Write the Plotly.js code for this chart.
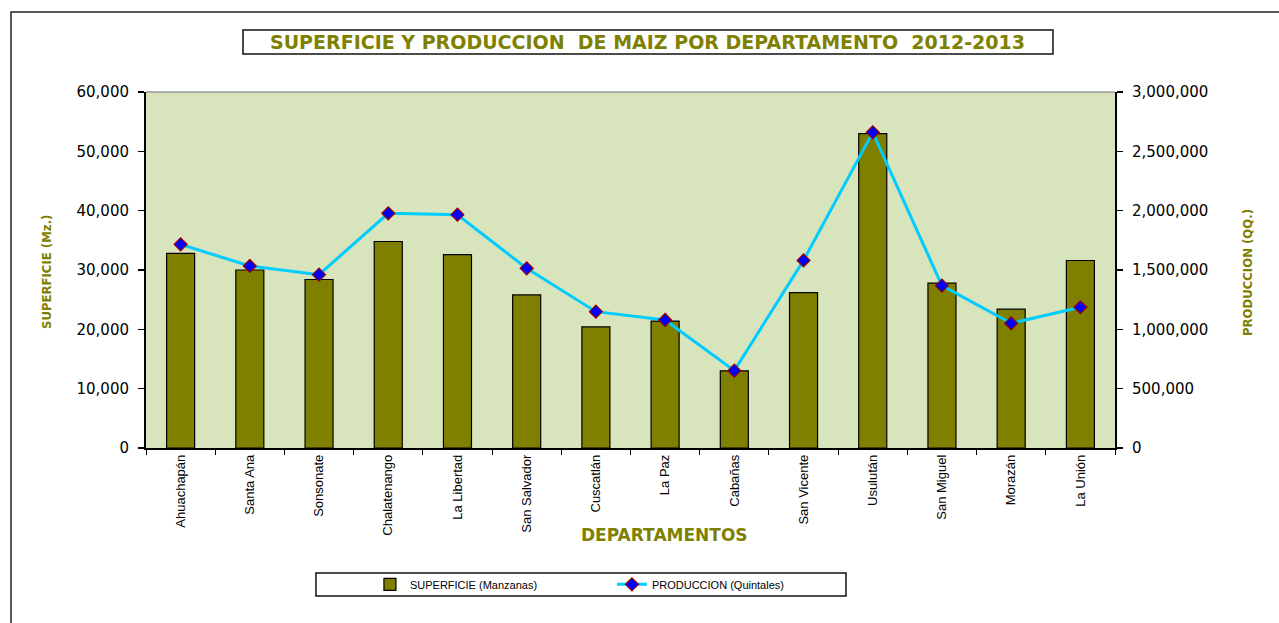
<!DOCTYPE html>
<html>
<head>
<meta charset="utf-8">
<script src="https://cdn.plot.ly/plotly-3.0.1.min.js"></script>
<style>
html,body{margin:0;padding:0;background:#fff;}
#chart{width:1279px;height:623px;}
</style>
</head>
<body>
<div id="chart"></div>
<script>
const departamentos = ["Ahuachapán","Santa Ana","Sonsonate","Chalatenango","La Libertad","San Salvador","Cuscatlán","La Paz","Cabañas","San Vicente","Usulután","San Miguel","Morazán","La Unión"];
const superficie = [32800, 30000, 28400, 34800, 32600, 25800, 20400, 21400, 13000, 26200, 53000, 27800, 23400, 31600];
const produccion = [1716000, 1534000, 1461000, 1978000, 1966000, 1514000, 1149000, 1079000, 652000, 1581000, 2660000, 1368000, 1051000, 1186000];
const leftTicks = [0, 10000, 20000, 30000, 40000, 50000, 60000];
const rightTicks = [0, 500000, 1000000, 1500000, 2000000, 2500000, 3000000];

const olive = "#808000";
const narrow = "Liberation Sans Narrow, Arial Narrow, DejaVu Sans Condensed, sans-serif";
const wide = "DejaVu Sans, Verdana, sans-serif";
const nCat = departamentos.length;

const traces = [
  {
    type: "bar", x: departamentos, y: superficie, name: "SUPERFICIE (Manzanas)",
    marker: {color: olive, line: {color: "#000", width: 1.2}},
    xaxis: "x", yaxis: "y"
  },
  {
    type: "scatter", mode: "lines+markers", x: departamentos, y: produccion,
    name: "PRODUCCION (Quintales)", xaxis: "x", yaxis: "y2",
    line: {color: "#00ccff", width: 3},
    marker: {symbol: "diamond", size: 10, color: "#0000ff", line: {color: "#990000", width: 1.2}}
  }
];

const layout = {
  width: 1279, height: 623,
  margin: {l: 146, r: 164, t: 92, b: 175},
  paper_bgcolor: "#ffffff",
  plot_bgcolor: "#d8e4bc",
  showlegend: true,
  bargap: 0.595,
  font: {family: wide, color: "#000", size: 13},
  xaxis: {
    type: "category", range: [-0.5, nCat - 0.5], tickangle: -90, tickson: "boundaries",
    ticks: "outside", ticklen: 5, tickcolor: "#000", tickwidth: 1,
    showline: true, linecolor: "#000", linewidth: 1.5,
    showgrid: false, zeroline: false,
    tickfont: {family: "Liberation Sans, Arial, sans-serif", size: 13, color: "#000"}
  },
  xaxis2: {
    overlaying: "x", anchor: "y", side: "bottom", range: [-0.5, nCat - 0.5],
    tick0: -0.5, dtick: 1, ticks: "inside", ticklen: 5, tickcolor: "#000",
    showticklabels: false, showline: false, showgrid: false, zeroline: false
  },
  yaxis: {
    range: [0, 60000], tickvals: leftTicks, tickformat: ",",
    ticks: "outside", ticklen: 6, tickcolor: "#000", tickwidth: 1.2,
    ticklabelstandoff: 6,
    showline: true, linecolor: "#000", linewidth: 2,
    showgrid: false, zeroline: false,
    tickfont: {family: wide, size: 15, color: "#000"}
  },
  yaxis3: {
    overlaying: "y", anchor: "x", side: "left", range: [0, 60000], tickvals: leftTicks,
    ticks: "inside", ticklen: 5, tickcolor: "#000", tickwidth: 1.2,
    showticklabels: false, showline: false, showgrid: false, zeroline: false
  },
  yaxis2: {
    overlaying: "y", side: "right", anchor: "x",
    range: [0, 3000000], tickvals: rightTicks, tickformat: ",",
    ticks: "outside", ticklen: 6, tickcolor: "#000", tickwidth: 1.2,
    ticklabelstandoff: 6,
    showline: true, linecolor: "#000", linewidth: 2,
    showgrid: false, zeroline: false,
    tickfont: {family: wide, size: 15, color: "#000"}
  },
  yaxis4: {
    overlaying: "y", side: "right", anchor: "x", range: [0, 3000000], tickvals: rightTicks,
    ticks: "inside", ticklen: 5, tickcolor: "#000", tickwidth: 1.2,
    showticklabels: false, showline: false, showgrid: false, zeroline: false
  },
  legend: {
    orientation: "h", x: 0.2311, xanchor: "left", y: -0.383, yanchor: "middle",
    bgcolor: "rgba(0,0,0,0)", borderwidth: 0,
    entrywidth: 197, entrywidthmode: "pixels",
    font: {family: "Liberation Sans, Arial, sans-serif", size: 11, color: "#000"}
  },
  shapes: [
    {type: "rect", xref: "paper", yref: "paper", x0: -0.1393, x1: 1.25, y0: -0.65, y1: 1.2247,
     line: {color: "#222", width: 1.5}, fillcolor: "rgba(0,0,0,0)"},
    {type: "rect", xref: "paper", yref: "paper", x0: 0.1001, x1: 0.936, y0: 1.1067, y1: 1.1742,
     line: {color: "#111", width: 1.5}, fillcolor: "#ffffff"},
    {type: "line", xref: "paper", yref: "paper", x0: 0, x1: 1, y0: 1, y1: 1,
     line: {color: "#999", width: 1.5}},
    {type: "rect", xref: "paper", yref: "paper", x0: 0.1754, x1: 0.7224, y0: -0.4157, y1: -0.3511,
     line: {color: "#111", width: 1.5}, fillcolor: "#ffffff", layer: "below"}
  ],
  annotations: [
    {xref: "paper", yref: "paper", x: 0.518, y: 1.1404, xanchor: "center", yanchor: "middle",
     showarrow: false, text: "SUPERFICIE Y PRODUCCION\u00a0\u00a0DE MAIZ POR DEPARTAMENTO\u00a0\u00a02012-2013",
     font: {family: wide, size: 19, color: olive, weight: "bold"}},
    {xref: "paper", yref: "paper", x: -0.1022, y: 0.4944, xanchor: "center", yanchor: "middle",
     showarrow: false, textangle: -90, text: "SUPERFICIE (Mz.)",
     font: {family: narrow, size: 13, color: olive, weight: "bold"}},
    {xref: "paper", yref: "paper", x: 1.1373, y: 0.4916, xanchor: "center", yanchor: "middle",
     showarrow: false, textangle: -90, text: "PRODUCCION (QQ.)",
     font: {family: narrow, size: 13, color: olive, weight: "bold"}},
    {xref: "paper", yref: "paper", x: 0.5346, y: -0.2444, xanchor: "center", yanchor: "middle",
     showarrow: false, text: "DEPARTAMENTOS",
     font: {family: wide, size: 17, color: olive, weight: "bold"}}
  ]
};

Plotly.newPlot("chart", traces, layout, {displayModeBar: false, staticPlot: true});
</script>
</body>
</html>
